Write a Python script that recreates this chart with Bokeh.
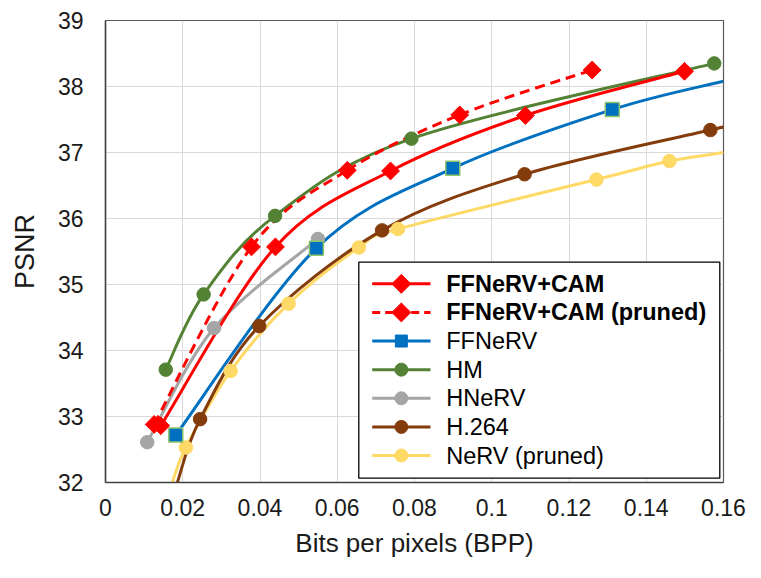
import numpy as np
from bokeh.plotting import figure
from bokeh.models import Range1d, FixedTicker
from bokeh.core.properties import value
from bokeh.embed import file_html
from bokeh.resources import INLINE

# ---------------- data ----------------
x_ticks = [0, 0.02, 0.04, 0.06, 0.08, 0.1, 0.12, 0.14, 0.16]
x_tick_labels = ["0", "0.02", "0.04", "0.06", "0.08", "0.1", "0.12", "0.14", "0.16"]
y_ticks = [32, 33, 34, 35, 36, 37, 38, 39]

series_names = ["FFNeRV+CAM", "FFNeRV+CAM (pruned)", "FFNeRV", "HM", "HNeRV",
                "H.264", "NeRV (pruned)"]

cam_bpp = [0.0143, 0.0440, 0.0738, 0.1087, 0.1499]
cam_psnr = [32.86, 35.57, 36.72, 37.56, 38.23]

cam_pruned_bpp = [0.0126, 0.0378, 0.0626, 0.0917, 0.1260]
cam_pruned_psnr = [32.88, 35.57, 36.73, 37.57, 38.25]

ffnerv_bpp = [0.0182, 0.0546, 0.0899, 0.1312]
ffnerv_psnr = [32.72, 35.55, 36.76, 37.65]
ffnerv_line_end = (0.16, 38.08)        # line continues to the axis edge

hm_bpp = [0.0156, 0.0254, 0.0439, 0.0792, 0.1576]
hm_psnr = [33.71, 34.85, 36.04, 37.21, 38.35]

hnerv_bpp = [0.0108, 0.0281, 0.0550]
hnerv_psnr = [32.61, 34.34, 35.69]

h264_bpp = [0.0245, 0.0398, 0.0716, 0.1085, 0.1566]
h264_psnr = [32.96, 34.37, 35.82, 36.67, 37.34]
h264_line_start = (0.0186, 32.0)
h264_line_end = (0.16, 37.38)

nerv_bpp = [0.0208, 0.0324, 0.0474, 0.0656, 0.0757, 0.1271, 0.1460]
nerv_psnr = [32.53, 33.69, 34.71, 35.56, 35.84, 36.59, 36.87]
nerv_line_start = (0.0173, 32.0)
nerv_line_end = (0.16, 37.00)

# ---------------- styles ----------------
FONT = "Liberation Sans"
C_RED = "#FF0000"
C_BLUE = "#0070C0"
C_GREEN = "#548235"
C_GRAY = "#A5A5A5"
C_BROWN = "#843C0C"
C_YELLOW = "#FFD966"
LW = 3

FRAME_W, FRAME_H = 618, 462

p = figure(frame_width=FRAME_W, frame_height=FRAME_H,
           min_border_left=105, min_border_right=30, min_border_top=20, min_border_bottom=88,
           x_range=Range1d(0, 0.16), y_range=Range1d(32, 39),
           output_backend="svg", toolbar_location=None,
           background_fill_color="white", border_fill_color="white")
p.extra_x_ranges["lx"] = Range1d(0, FRAME_W)
p.extra_y_ranges["ly"] = Range1d(0, FRAME_H)

p.outline_line_color = "#595959"
p.outline_line_width = 1.2

for ax in (p.xaxis[0], p.yaxis[0]):
    ax.axis_line_color = "#404040"
    ax.axis_line_width = 1.5
    ax.major_tick_line_color = None
    ax.minor_tick_line_color = None
    ax.major_tick_out = 0
    ax.major_tick_in = 0
    ax.major_label_text_font = FONT
    ax.major_label_text_font_size = "23px"
    ax.major_label_text_color = "#1a1a1a"
    ax.axis_label_text_font = FONT
    ax.axis_label_text_font_style = "normal"
    ax.axis_label_text_color = "#1a1a1a"

p.xaxis.ticker = FixedTicker(ticks=x_ticks)
p.xaxis.major_label_overrides = {t: l for t, l in zip(x_ticks, x_tick_labels)}
p.yaxis.ticker = FixedTicker(ticks=y_ticks)
p.xaxis.axis_label = "Bits per pixels (BPP)"
p.yaxis.axis_label = "PSNR"
p.xaxis.axis_label_text_font_size = "26px"
p.yaxis.axis_label_text_font_size = "27px"
p.xaxis.major_label_standoff = 16
p.yaxis.major_label_standoff = 22
p.xaxis.axis_label_standoff = 9
p.yaxis.axis_label_standoff = 15

p.xgrid.ticker = FixedTicker(ticks=x_ticks)
p.ygrid.ticker = FixedTicker(ticks=y_ticks)
for g in (p.xgrid[0], p.ygrid[0]):
    g.grid_line_color = "#D9D9D9"
    g.grid_line_width = 1


def smooth_segments(xs, ys):
    """Bezier control points of a Catmull-Rom style smoothed line (Excel-like)."""
    x = np.asarray(xs, float)
    y = np.asarray(ys, float)
    n = len(x)
    qx = np.concatenate([[x[0]], x, [x[-1]]])
    qy = np.concatenate([[y[0]], y, [y[-1]]])
    return dict(
        x0=qx[1:n], y0=qy[1:n], x1=qx[2:n + 1], y1=qy[2:n + 1],
        cx0=qx[1:n] + (qx[2:n + 1] - qx[0:n - 1]) / 6.0,
        cy0=qy[1:n] + (qy[2:n + 1] - qy[0:n - 1]) / 6.0,
        cx1=qx[2:n + 1] - (qx[3:n + 2] - qx[1:n]) / 6.0,
        cy1=qy[2:n + 1] - (qy[3:n + 2] - qy[1:n]) / 6.0,
    )


def line_pts(bpp, psnr, start=None, end=None):
    xs, ys = list(bpp), list(psnr)
    if start is not None:
        xs = [start[0]] + xs
        ys = [start[1]] + ys
    if end is not None:
        xs = xs + [end[0]]
        ys = ys + [end[1]]
    return xs, ys


series = [
    # name, bpp, psnr, start, end, color, marker, dash
    (series_names[6], nerv_bpp, nerv_psnr, nerv_line_start, nerv_line_end, C_YELLOW, "circle", "solid"),
    (series_names[5], h264_bpp, h264_psnr, h264_line_start, h264_line_end, C_BROWN, "circle", "solid"),
    (series_names[4], hnerv_bpp, hnerv_psnr, None, None, C_GRAY, "circle", "solid"),
    (series_names[3], hm_bpp, hm_psnr, None, None, C_GREEN, "circle", "solid"),
    (series_names[2], ffnerv_bpp, ffnerv_psnr, None, ffnerv_line_end, C_BLUE, "square", "solid"),
    (series_names[1], cam_pruned_bpp, cam_pruned_psnr, None, None, C_RED, "diamond", "10 6"),
    (series_names[0], cam_bpp, cam_psnr, None, None, C_RED, "diamond", "solid"),
]

# lines
for name, bx, by, st, en, col, mk, dash in series:
    xs, ys = line_pts(bx, by, st, en)
    p.bezier(**smooth_segments(xs, ys), line_color=col, line_width=LW, line_dash=dash)

# markers
for name, bx, by, st, en, col, mk, dash in series:
    if mk == "circle":
        p.scatter(bx, by, marker="circle", size=13.5, fill_color=col, line_color=col)
    elif mk == "square":
        p.scatter(bx, by, marker="square", size=14, fill_color=col, line_color="#8FC36A",
                  line_width=1.5)
    else:
        p.scatter(bx, by, marker="square", angle=np.pi / 4, size=12.6,
                  fill_color=col, line_color=col)

# ---------------- legend (drawn in frame pixel units) ----------------
LG_LEFT, LG_RIGHT, LG_BOTTOM, LG_TOP = 253.3, 614.3, 4.3, 220.3
ROW0, ROW_STEP = 198.7, 28.62
GL_X0, GL_X1, TXT_X = 266.7, 325.0, 340.7

p.quad(left=[LG_LEFT], right=[LG_RIGHT], bottom=[LG_BOTTOM], top=[LG_TOP],
       fill_color="white", line_color="black", line_width=1.3,
       x_range_name="lx", y_range_name="ly")

legend_style = [
    (C_RED, "diamond", "solid", "bold"),
    (C_RED, "diamond", "8 5", "bold"),
    (C_BLUE, "square", "solid", "normal"),
    (C_GREEN, "circle", "solid", "normal"),
    (C_GRAY, "circle", "solid", "normal"),
    (C_BROWN, "circle", "solid", "normal"),
    (C_YELLOW, "circle", "solid", "normal"),
]
for i, (name, (col, mk, dash, fstyle)) in enumerate(zip(series_names, legend_style)):
    yy = ROW0 - ROW_STEP * i
    p.segment(x0=[GL_X0], y0=[yy], x1=[GL_X1], y1=[yy], line_color=col, line_width=LW,
              line_dash=dash, x_range_name="lx", y_range_name="ly")
    xm = (GL_X0 + GL_X1) / 2
    if mk == "diamond":
        p.scatter([xm], [yy], marker="square", angle=np.pi / 4, size=13.4, fill_color=col,
                  line_color=col, x_range_name="lx", y_range_name="ly")
    elif mk == "square":
        p.scatter([xm], [yy], marker="square", size=12, fill_color=col, line_color=col,
                  x_range_name="lx", y_range_name="ly")
    else:
        p.scatter([xm], [yy], marker="circle", size=13, fill_color=col, line_color=col,
                  x_range_name="lx", y_range_name="ly")
    p.text(x=[TXT_X], y=[yy], text=[name], text_font=value(FONT), text_font_size="23.5px",
           text_font_style=fstyle, text_baseline="middle", text_align="left",
           text_color="black", x_range_name="lx", y_range_name="ly")

open("out.html", "w").write(file_html(p, INLINE))
